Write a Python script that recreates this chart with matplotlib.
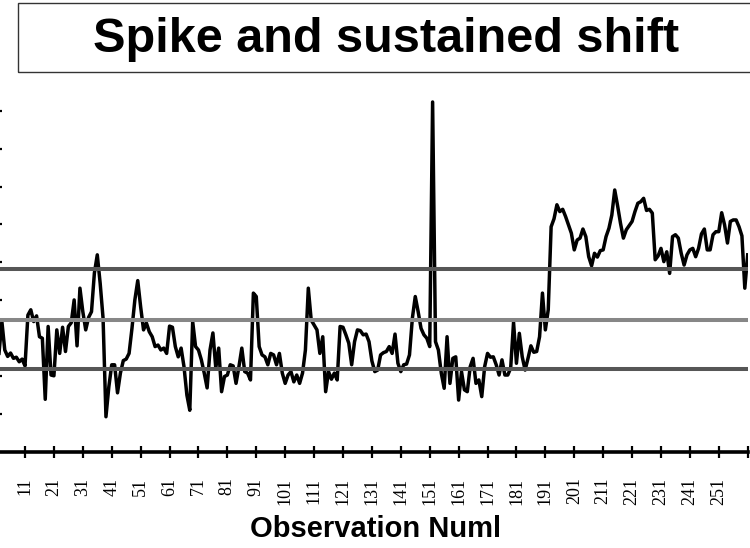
import matplotlib
matplotlib.use("Agg")
import matplotlib.pyplot as plt
from matplotlib.patches import Rectangle

# ---- data ----
values = [
    27.0, 26.0, 34.4, 26.9, 25.2, 26.1, 24.7, 25.0, 23.8, 24.5,
    22.7, 36.1, 37.5, 34.4, 35.9, 30.4, 30.0, 13.9, 33.1, 20.3,
    20.1, 32.2, 26.0, 32.9, 26.5, 33.1, 34.1, 40.1, 28.0, 43.2,
    37.0, 32.2, 35.5, 37.0, 47.2, 52.0, 44.5, 35.3, 9.3, 17.2,
    23.0, 23.0, 15.6, 20.8, 24.1, 24.5, 26.0, 32.6, 40.1, 45.2,
    38.3, 32.2, 34.0, 31.7, 30.4, 27.8, 28.2, 26.9, 27.4, 26.0,
    33.2, 32.9, 27.8, 25.1, 27.4, 22.5, 15.0, 11.0, 34.4, 27.8,
    26.9, 24.3, 20.8, 16.9, 26.9, 31.4, 22.2, 27.4, 15.9, 19.9,
    20.3, 23.0, 22.7, 18.1, 22.5, 27.4, 21.2, 20.8, 19.0, 41.9,
    41.0, 27.8, 25.6, 25.1, 23.0, 26.0, 25.6, 23.0, 26.0, 20.8,
    18.1, 20.3, 21.2, 18.5, 20.3, 18.1, 20.8, 26.9, 43.2, 34.8,
    33.5, 32.2, 26.0, 30.4, 15.9, 21.2, 19.2, 20.8, 19.0, 33.1,
    32.9, 30.9, 28.7, 23.0, 29.1, 32.2, 32.0, 30.9, 31.1, 29.1,
    24.0, 21.2, 21.6, 25.6, 26.2, 26.5, 27.8, 26.0, 31.1, 23.4,
    21.2, 23.0, 23.2, 25.6, 35.3, 41.0, 37.0, 32.6, 30.9, 30.0,
    27.8, 92.3, 29.1, 26.9, 20.8, 16.8, 30.4, 18.1, 24.7, 25.1,
    13.7, 21.2, 16.4, 15.9, 22.5, 24.7, 18.1, 19.0, 14.6, 22.5,
    26.0, 25.0, 25.1, 23.0, 20.3, 24.3, 20.3, 20.3, 22.1, 34.2,
    23.4, 31.3, 25.1, 21.6, 24.7, 28.0, 26.3, 26.5, 30.4, 41.9,
    32.2, 37.5, 59.4, 61.5, 65.2, 63.4, 64.0, 62.1, 59.9, 57.7,
    53.3, 55.9, 56.4, 58.8, 56.8, 51.5, 49.1, 52.4, 51.4, 53.1,
    53.3, 56.8, 59.0, 62.5, 69.1, 64.9, 60.3, 56.4, 58.6, 59.7,
    60.8, 63.4, 65.6, 66.0, 66.9, 63.7, 64.0, 63.0, 50.7, 51.7,
    53.7, 50.2, 52.8, 47.1, 56.8, 57.3, 56.4, 52.4, 49.3, 52.0,
    53.3, 53.7, 51.5, 53.7, 57.5, 58.8, 53.3, 53.3, 57.3, 58.1,
    58.1, 63.1, 59.9, 55.1, 60.8, 61.2, 61.2, 59.4, 57.0, 43.2,
    52.0,
]
observations = list(range(1, len(values) + 1))
ucl = 48.3
center = 34.8
lcl = 21.9
tick_positions = list(range(1, 262, 10))
tick_labels = [str(t) if 11 <= t <= 251 else "" for t in tick_positions]
y_ticks = list(range(10, 100, 10))
title = "Spike and sustained shift"
xlabel = "Observation Numl"

W, H = 750, 548
fig = plt.figure(figsize=(W / 100, H / 100), dpi=100)

left_px, right_px = -3.9, 747.7
top_px, bottom_px = 72.8, 452.0
ax = fig.add_axes([left_px / W, 1 - bottom_px / H,
                   (right_px - left_px) / W, (bottom_px - top_px) / H])

ax.plot(observations, values, color="black", lw=2.5, zorder=3,
        solid_joinstyle="round")
ax.axhline(ucl, color="#565656", lw=2.9, zorder=4)
ax.axhline(center, color="#878787", lw=2.9, zorder=4)
ax.axhline(lcl, color="#565656", lw=2.9, zorder=4)

ax.set_xlim(1, 261)
ax.set_ylim(0, 100)

for s in ["top", "right", "left"]:
    ax.spines[s].set_visible(False)
ax.spines["bottom"].set_linewidth(2.6)
ax.spines["bottom"].set_color("black")

ax.set_xticks(tick_positions)
ax.set_xticklabels(tick_labels, rotation=90, va="top", ha="center",
                   family=["Liberation Serif"], fontsize=13)
ax.tick_params(axis="x", direction="inout", length=8.6, width=1.6,
               pad=14, color="black")
ax.set_yticks(y_ticks)
ax.set_yticklabels([])
ax.tick_params(axis="y", direction="inout", length=8.6, width=1.6,
               color="black")

fig.text(376 / W, 1 - 529 / H, xlabel, ha="center", va="center",
         family=["Liberation Sans"], fontweight="bold", fontsize=21)

# title box
fig.patches.append(Rectangle((18 / W, 1 - 72 / H), (770 - 18) / W, (72 - 3) / H,
                             transform=fig.transFigure, fill=False,
                             edgecolor="#333333", lw=1.0))
fig.text(386 / W, 1 - 40 / H, title, ha="center", va="center",
         family=["Liberation Sans"], fontweight="bold", fontsize=35)

fig.savefig("out.png", dpi=100)
